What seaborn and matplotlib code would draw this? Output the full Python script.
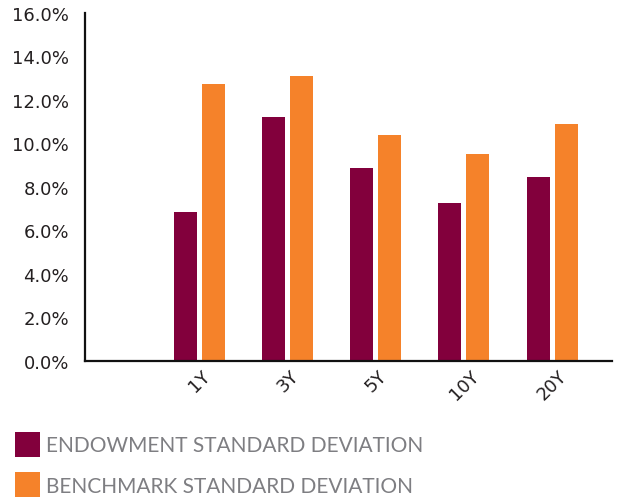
import matplotlib
matplotlib.use("Agg")
import matplotlib.pyplot as plt
from matplotlib.ticker import FuncFormatter
import seaborn as sns
import pandas as pd

# Annualised standard deviation by trailing period (%)
terms = ["1Y", "3Y", "5Y", "10Y", "20Y"]
endowment_sd = [6.85, 11.2, 8.85, 7.25, 8.45]
benchmark_sd = [12.7, 13.1, 10.4, 9.5, 10.9]
series_names = ["ENDOWMENT STANDARD DEVIATION", "BENCHMARK STANDARD DEVIATION"]
y_ticks = [0, 2, 4, 6, 8, 10, 12, 14, 16]

MAROON = "#82003C"
ORANGE = "#F5822A"

df = pd.DataFrame({
    "term": terms * 2,
    "value": endowment_sd + benchmark_sd,
    "series": [series_names[0]] * len(terms) + [series_names[1]] * len(terms),
})

sns.set_style("white")
plt.rcParams["font.family"] = ["DejaVu Sans"]

fig = plt.figure(figsize=(6.18, 5.02), dpi=100)
ax = fig.add_axes([85 / 618, 1 - 361.7 / 502, (612 - 85) / 618, (361.7 - 13.7) / 502])

sns.barplot(data=df, x="term", y="value", hue="series", order=terms,
            hue_order=series_names, palette=[MAROON, ORANGE], saturation=1,
            width=0.636, gap=0.18, linewidth=0, ax=ax)

ax.set_xlim(-1.30, 4.68)
ax.set_ylim(0, 16)
ax.set_yticks(y_ticks)
ax.yaxis.set_major_formatter(FuncFormatter(lambda v, _: f"{v:.1f}%"))
ax.set_xlabel("")
ax.set_ylabel("")

for side in ("top", "right"):
    ax.spines[side].set_visible(False)
for side in ("left", "bottom"):
    ax.spines[side].set_color("#111111")
    ax.spines[side].set_linewidth(1.6)

ax.tick_params(axis="y", direction="in", length=10.5, width=1.6, color="#111111",
               labelsize=13, labelcolor="#231F20", pad=11.5)
ax.tick_params(axis="x", length=0, labelsize=13, labelcolor="#231F20", pad=4)
for lbl in ax.get_xticklabels():
    lbl.set_rotation(45)
    lbl.set_ha("center")

handles, labels = ax.get_legend_handles_labels()
ax.get_legend().remove()
fig.legend(handles, labels, loc="upper left", bbox_to_anchor=(15 / 618, 1 - 433 / 502),
           frameon=False, prop={"family": ["Lato", "DejaVu Sans"], "size": 15},
           labelcolor="#7E7E82",
           handlelength=1.2, handleheight=1.47, handletextpad=0.29,
           labelspacing=0.74, borderpad=0, borderaxespad=0)

fig.savefig("out.png", dpi=100)
